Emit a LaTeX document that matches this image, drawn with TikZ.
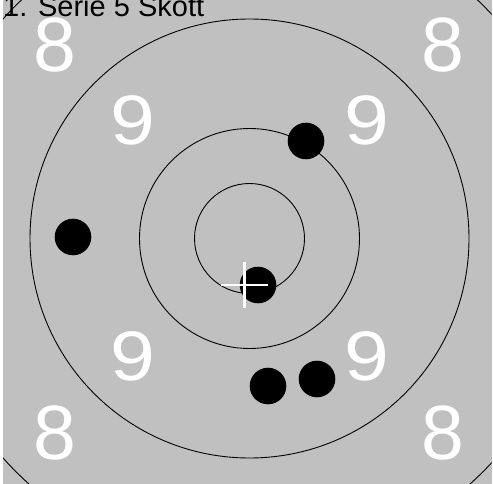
\documentclass[tikz,border=0pt]{standalone}
\usepackage{fontspec}
\setmainfont{Liberation Sans}
\definecolor{bggrey}{HTML}{C0C0C0}
\begin{document}
\begin{tikzpicture}[x=1pt,y=-1pt,
  ring/.style={draw=black,line width=0.9pt},
  shot/.style={circle,fill=black,inner sep=0pt,minimum size=36.6pt},
  ninelbl/.style={text=white,inner sep=0pt,xscale=1.15,font=\fontsize{70}{72}\selectfont},
  eightlbl/.style={text=white,inner sep=0pt,font=\fontsize{77}{80}\selectfont},
  title/.style={text=black,inner sep=0pt,anchor=base west,font=\fontsize{29}{30}\selectfont}]
\useasboundingbox (0,0) rectangle (493,484);
\fill[white] (0,0) rectangle (493,484);
\fill[bggrey] (3,0) rectangle (491.5,484);
\node[title] (t) at (3,17) {1. Serie 5 Skott};
\coordinate (c) at (249.5,238.5);
\begin{scope}
\clip (3,0) rectangle (491.5,484);
\draw[ring] (c) circle[radius=55pt];
\draw[ring] (c) circle[radius=110pt];
\draw[ring] (c) circle[radius=219.5pt];
\draw[ring] (c) circle[radius=330pt];
\end{scope}
\node[ninelbl] (n1) at (133,120) {9};
\node[ninelbl] (n2) at (367,120) {9};
\node[ninelbl] (n3) at (133,356) {9};
\node[ninelbl] (n4) at (367,356) {9};
\node[eightlbl] (e1) at (55,44.5) {8};
\node[eightlbl] (e2) at (443,44.5) {8};
\node[eightlbl] (e3) at (55,433) {8};
\node[eightlbl] (e4) at (443,433) {8};
\node[shot] (s1) at (73,237) {};
\node[shot] (s2) at (306,141) {};
\node[shot] (s3) at (258,285) {};
\node[shot] (s4) at (268,386) {};
\node[shot] (s5) at (317,379) {};
\coordinate (x) at (244.5,285);
\draw[white,line width=2.5pt] ([xshift=-23.5pt]x) -- ([xshift=23.5pt]x);
\draw[white,line width=2.5pt] ([yshift=-23pt]x) -- ([yshift=23pt]x);
\end{tikzpicture}
\end{document}
